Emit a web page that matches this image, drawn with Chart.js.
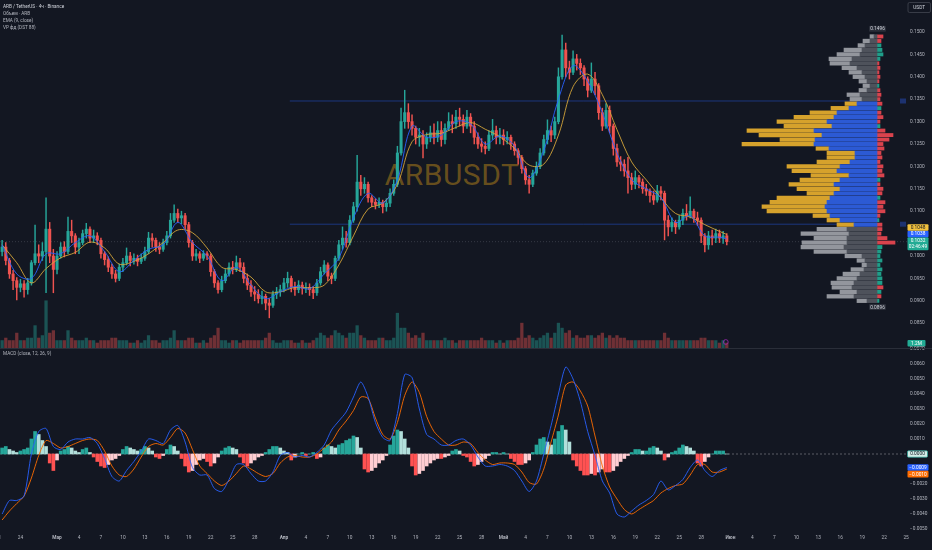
<!DOCTYPE html>
<html><head><meta charset="utf-8">
<script src="https://cdn.jsdelivr.net/npm/chart.js@4.4.1/dist/chart.umd.min.js"></script>
<style>
html,body{margin:0;padding:0;background:#131722;width:932px;height:550px;overflow:hidden;font-family:Roboto,"Noto Sans",sans-serif;}
#topc{position:absolute;left:0;top:0;z-index:2}
#botc{position:absolute;left:0;top:340px;z-index:3}
#sep{position:absolute;left:0;top:348px;width:932px;height:1px;background:#2a2e39;z-index:4}
#wm{position:absolute;left:452px;top:160px;transform:translateX(-50%);font-size:30px;line-height:30px;color:rgba(176,128,26,0.55);z-index:1;white-space:nowrap;letter-spacing:0.5px}
.lg{position:absolute;left:3px;font-size:9.4px;line-height:12px;color:#b2b5be;white-space:nowrap;z-index:5;transform:scale(0.5);transform-origin:0 0}
</style></head>
<body>
<div id="wm">ARBUSDT</div>
<canvas id="topc" width="932" height="348"></canvas>
<canvas id="botc" width="932" height="210"></canvas>
<div id="sep"></div>
<div class="lg" style="top:3px;color:#d1d4dc">ARB / TetherUS · 4ч · Binance</div>
<div class="lg" style="top:10px">Объем · ARB</div>
<div class="lg" style="top:17px">EMA (9, close)</div>
<div class="lg" style="top:24px">VP фд (DST 88)</div>
<div class="lg" style="top:350px">MACD (close, 12, 26, 9)</div>
<script>
// ---------- DATA (12h candles, day 0 = 1 March) ----------
const FIRST_OPEN = 0.1010;
const closes = [
.1020,.0990,.0960,.0945,.0930,.0938,.0925,.0940,.0985,.1005,
.1000,.1010,.1060,.1000,.0970,.1000,.1020,.1010,.1055,.1045,
.1020,.1030,.1050,.1060,.1040,.1045,.1035,.1005,.0992,.0975,
.0960,.0950,.0975,.0985,.1000,.0990,.0995,.0988,.0995,.1010,
.1040,.1035,.1020,.1015,.1030,.1045,.1080,.1095,.1085,.1090,
.1070,.1030,.1000,.1005,.0995,.1005,.1000,.0965,.0940,.0925,
.0945,.0960,.0975,.0970,.0985,.0975,.0950,.0935,.0920,.0915,
.0905,.0910,.0895,.0890,.0915,.0920,.0925,.0940,.0950,.0930,
.0925,.0935,.0928,.0930,.0925,.0918,.0940,.0965,.0980,.0955,
.0950,.0995,.1025,.1040,.1030,.1080,.1110,.1165,.1150,.1160,
.1130,.1120,.1115,.1120,.1110,.1118,.1140,.1160,.1230,.1300,
.1320,.1300,.1285,.1265,.1270,.1250,.1265,.1275,.1265,.1280,
.1260,.1285,.1300,.1295,.1310,.1305,.1290,.1310,.1290,.1265,
.1250,.1245,.1240,.1270,.1280,.1265,.1270,.1260,.1265,.1250,
.1235,.1220,.1195,.1170,.1160,.1185,.1200,.1230,.1260,.1280,
.1270,.1300,.1400,.1460,.1420,.1410,.1440,.1430,.1420,.1395,
.1370,.1395,.1380,.1320,.1290,.1325,.1290,.1240,.1210,.1205,
.1190,.1175,.1160,.1175,.1165,.1150,.1145,.1135,.1125,.1145,
.1140,.1080,.1065,.1075,.1065,.1080,.1095,.1090,.1100,.1085,
.1080,.1045,.1025,.1045,.1040,.1050,.1040,.1045,.1032];
const highs = [
.1035,.1030,.0995,.0968,.0952,.0948,.0945,.0950,.0990,.1069,
.1025,.1030,.1130,.1075,.1015,.1010,.1030,.1032,.1087,.1080,
.1050,.1040,.1058,.1073,.1065,.1058,.1052,.1040,.1010,.0998,
.0982,.0968,.0982,.0995,.1018,.1008,.1005,.1002,.1005,.1020,
.1053,.1050,.1040,.1030,.1038,.1055,.1095,.1114,.1105,.1100,
.1095,.1075,.1035,.1015,.1010,.1012,.1010,.1005,.0970,.0945,
.0955,.0970,.0985,.0988,.1000,.0995,.0985,.0960,.0945,.0932,
.0925,.0922,.0915,.0905,.0922,.0930,.0935,.0950,.0964,.0955,
.0942,.0945,.0942,.0940,.0938,.0932,.0948,.0975,.0990,.0985,
.0962,.1000,.1035,.1065,.1055,.1090,.1120,.1225,.1180,.1175,
.1165,.1135,.1128,.1130,.1125,.1128,.1150,.1170,.1245,.1330,
.1370,.1340,.1315,.1290,.1285,.1280,.1275,.1290,.1295,.1300,
.1300,.1295,.1320,.1315,.1325,.1330,.1315,.1325,.1318,.1300,
.1275,.1262,.1255,.1280,.1305,.1290,.1285,.1282,.1278,.1270,
.1255,.1240,.1225,.1200,.1180,.1192,.1210,.1240,.1270,.1304,
.1290,.1310,.1420,.1493,.1475,.1435,.1458,.1450,.1440,.1425,
.1400,.1431,.1410,.1385,.1330,.1340,.1335,.1295,.1250,.1222,
.1215,.1220,.1185,.1190,.1180,.1172,.1160,.1150,.1145,.1158,
.1155,.1145,.1090,.1085,.1080,.1090,.1105,.1115,.1132,.1105,
.1098,.1085,.1050,.1055,.1058,.1060,.1058,.1055,.1050];
const lows = [
.1000,.0980,.0950,.0925,.0902,.0920,.0908,.0915,.0935,.0980,
.0985,.0990,.0918,.0985,.0918,.0960,.0995,.0998,.1005,.1030,
.1005,.1005,.1025,.1040,.1030,.1030,.1025,.0995,.0980,.0965,
.0950,.0942,.0945,.0965,.0980,.0978,.0982,.0978,.0983,.0990,
.1005,.1020,.1010,.1005,.1010,.1025,.1040,.1075,.1075,.1072,
.1060,.1020,.0990,.0990,.0985,.0990,.0992,.0955,.0930,.0917,
.0920,.0940,.0955,.0960,.0965,.0965,.0940,.0925,.0910,.0900,
.0895,.0893,.0880,.0862,.0885,.0905,.0910,.0920,.0930,.0920,
.0912,.0918,.0915,.0918,.0912,.0905,.0912,.0935,.0960,.0945,
.0938,.0945,.0990,.1015,.1020,.1025,.1075,.1100,.1135,.1140,
.1120,.1110,.1105,.1108,.1096,.1100,.1110,.1135,.1155,.1225,
.1285,.1285,.1270,.1250,.1245,.1219,.1240,.1255,.1250,.1255,
.1245,.1250,.1280,.1275,.1285,.1290,.1275,.1285,.1275,.1250,
.1240,.1232,.1228,.1235,.1260,.1250,.1250,.1248,.1250,.1238,
.1225,.1205,.1185,.1160,.1140,.1155,.1180,.1195,.1225,.1250,
.1255,.1262,.1295,.1395,.1400,.1395,.1405,.1415,.1405,.1380,
.1355,.1365,.1360,.1305,.1280,.1285,.1275,.1225,.1200,.1190,
.1178,.1140,.1148,.1150,.1152,.1140,.1135,.1120,.1115,.1120,
.1125,.1036,.1045,.1055,.1050,.1060,.1070,.1080,.1085,.1075,
.1068,.1030,.1009,.1015,.1025,.1030,.1030,.1028,.1025];
const volumes = [
3,4,3,3,6,3,3,4,4,9,
4,5,19,6,7,3,3,3,7,4,
3,3,3,4,3,3,2,3,3,3,
4,4,3,3,3,2,2,3,2,3,
5,3,3,2,3,3,4,7,3,3,
3,4,4,2,2,3,2,4,5,8,
3,3,2,3,3,2,3,3,3,3,
3,3,4,6,3,2,2,3,3,3,
2,2,3,2,2,3,4,6,5,4,
5,7,6,5,4,6,6,9,5,4,
3,3,3,4,4,3,3,4,14,8,
8,6,4,5,4,6,3,3,3,3,
3,4,3,3,2,3,3,3,3,3,
3,4,3,3,3,2,3,2,3,3,
3,4,10,4,5,4,3,4,5,6,
4,6,10,8,6,7,4,5,4,4,
5,5,4,5,6,4,5,4,5,4,
4,3,3,3,3,3,3,3,3,3,
3,6,4,3,3,3,3,3,3,3,
3,4,4,3,3,3,2,3,2];
// EMA(9) and slow yellow average, read every 4 candles (+ last candle)
const emaFast = [.1025,.0960,.0950,.1005,.1005,.1030,.1045,.1010,.0965,.0990,
.1015,.1025,.1075,.1030,.1000,.0945,.0975,.0935,.0905,.0920,
.0932,.0927,.0960,.0995,.1085,.1140,.1118,.1170,.1290,.1265,
.1270,.1300,.1295,.1250,.1268,.1245,.1175,.1235,.1350,.1425,
.1390,.1320,.1230,.1170,.1150,.1130,.1075,.1090,.1045,.1042,.1038];
const emaSlow = [.1025,.0985,.0940,.0972,.0996,.1008,.1031,.1018,.0982,.0988,
.1005,.1030,.1058,.1052,.1018,.0975,.0970,.0953,.0920,.0920,
.0930,.0929,.0935,.0980,.1045,.1105,.1118,.1160,.1255,.1271,
.1274,.1287,.1298,.1283,.1266,.1240,.1203,.1205,.1270,.1378,
.1406,.1360,.1282,.1210,.1170,.1130,.1095,.1087,.1070,.1055,.1048];
// MACD lines, read every 2 candles (1 day)
const macdLine = [
-.0040,-.0031,-.0031,-.0028,.0000,.0015,.0017,.0005,.0003,.0008,
.0010,.0010,.0011,.0007,-.0003,-.0015,-.0018,-.0011,-.0005,.0002,
.0010,.0009,.0007,.0016,.0019,.0008,-.0009,-.0014,-.0014,-.0023,
-.0025,-.0017,-.0007,-.0007,-.0013,-.0018,-.0018,-.0012,-.0001,.0001,
-.0002,-.0001,-.0002,.0001,.0006,.0016,.0022,.0028,.0038,.0048,
.0038,.0021,.0011,.0009,.0027,.0053,.0051,.0030,.0013,.0010,
.0006,.0006,.0009,.0010,.0006,-.0002,-.0008,-.0008,-.0007,-.0008,
-.0011,-.0018,-.0025,-.0018,.0000,.0019,.0040,.0058,.0050,.0035,
.0015,-.0001,-.0018,-.0026,-.0040,-.0042,-.0038,-.0034,-.0031,-.0027,
-.0018,-.0024,-.0021,-.0017,-.0009,-.0004,-.0011,-.0015,-.0011,-.0009];
const signalLine = [
-.0044,-.0038,-.0033,-.0028,-.0016,-.0001,.0009,.0007,.0004,.0005,
.0007,.0009,.0010,.0009,.0002,-.0008,-.0014,-.0015,-.0010,-.0002,
.0005,.0007,.0006,.0011,.0017,.0014,.0003,-.0008,-.0013,-.0018,
-.0021,-.0018,-.0013,-.0008,-.0010,-.0013,-.0015,-.0013,-.0006,-.0002,
-.0001,-.0002,-.0002,.0000,.0004,.0008,.0016,.0022,.0029,.0038,
.0037,.0024,.0013,.0010,.0021,.0039,.0048,.0041,.0025,.0015,
.0010,.0006,.0006,.0008,.0007,.0001,-.0004,-.0007,-.0006,-.0006,
-.0007,-.0012,-.0019,-.0020,-.0010,.0008,.0026,.0046,.0048,.0042,
.0032,.0012,-.0008,-.0022,-.0030,-.0037,-.0040,-.0037,-.0034,-.0031,
-.0026,-.0023,-.0021,-.0020,-.0014,-.0007,-.0007,-.0012,-.0012,-.0010];
const histogram = [
.0004,.0005,.0003,.0002,.0001,.0002,.0003,.0004,.0010,.0015,
.0013,.0009,.0005,-.0006,-.0011,-.0004,.0002,.0003,.0005,.0004,
.0002,.0001,.0003,.0004,.0001,-.0002,-.0005,-.0008,-.0009,-.0007,
-.0004,-.0003,-.0001,.0003,.0005,.0004,.0003,.0002,.0003,.0005,
.0004,.0002,-.0002,-.0003,-.0001,.0003,.0006,.0005,.0002,-.0003,
-.0008,-.0012,-.0011,-.0007,-.0004,-.0003,-.0005,-.0008,-.0006,-.0002,
.0002,.0004,.0005,.0004,.0003,-.0002,-.0006,-.0008,-.0006,-.0004,
-.0002,-.0001,.0001,.0003,.0005,.0005,.0004,.0002,.0001,-.0004,
-.0002,.0000,.0001,-.0001,.0000,.0001,-.0003,-.0002,.0004,.0006,
.0005,.0004,.0006,.0007,.0009,.0010,.0012,.0011,.0004,-.0010,
-.0012,-.0011,-.0009,-.0006,-.0004,-.0001,.0006,.0012,.0016,.0015,
.0010,.0004,-.0008,-.0014,-.0013,-.0011,-.0008,-.0006,-.0004,-.0003,
-.0003,-.0002,-.0001,.0002,.0003,.0002,-.0001,-.0002,-.0005,-.0008,
-.0007,-.0005,-.0003,-.0001,.0001,.0001,.0000,.0001,.0000,-.0003,
-.0005,-.0007,-.0007,-.0006,-.0004,.0001,.0006,.0010,.0011,.0008,
.0006,.0010,.0015,.0019,.0016,.0008,-.0004,-.0008,-.0011,-.0014,
-.0014,-.0013,-.0014,-.0012,-.0010,-.0012,-.0012,-.0011,-.0008,-.0005,
-.0003,-.0001,.0001,.0003,.0003,.0002,.0002,.0004,.0005,.0004,
.0002,-.0004,-.0002,.0001,.0002,.0004,.0006,.0005,.0004,.0002,
-.0006,-.0008,-.0005,-.0002,.0000,.0002,.0002,.0002,.0000];
// Volume profile rows
const vpPrices = [.149,.148,.147,.146,.145,.144,.143,.142,.141,.140,.139,.138,.137,.136,.135,
.134,.133,.132,.131,.130,.129,.128,.127,.126,.125,.124,.123,.122,.121,.120,.119,.118,.117,.116,.115,.114,.113,.112,.111,.110,.109,.108,.107,
.106,.105,.104,.103,.102,.101,.100,.099,.098,.097,.096,.095,.094,.093,.092,.091,.090];
const vpInner = [3,7,12,15,17,25,27,20,15,12,10,7,10,17,15,
20,28,40,43,50,45,63,55,62,63,48,22,22,27,37,40,28,37,43,37,43,47,50,52,50,47,37,23,
30,28,30,30,33,30,15,12,10,13,17,20,23,25,20,23,10];
const vpOuter = [4,7,7,18,23,23,20,15,13,12,8,7,8,13,12,
12,18,27,40,50,48,67,63,35,72,13,28,28,33,53,45,38,40,45,43,27,53,57,63,60,17,13,17,
30,48,33,45,43,33,17,8,5,13,17,20,23,20,17,27,10];
const vpDelta = [-6,-4,4,5,6,3,-2,-3,-2,-3,-2,2,-3,-4,-3,
-5,4,-4,-6,-3,3,-8,-16,-12,-6,-7,-4,-5,-3,-6,-5,-7,3,-3,-6,-5,3,-8,-6,-8,-3,2,-5,
-5,-4,-10,-18,5,4,3,5,3,5,4,5,5,-6,4,-4,2];
const VAH = 0.1346, VAL = 0.1071, VA_ROW_HIGH = 0.134, VA_ROW_LOW = 0.107;
const VP_HIGH = 0.1496, VP_LOW = 0.0896;
// axis ticks
const xTickDays = [-8,-5,0,3,6,9,12,15,18,21,24,27,31,34,37,40,43,46,49,52,55,58,61,64,67,70,73,76,79,82,85,88,92,95,98,101,104,107,110,113,116];
const xTickLabels = ['21','24','Мар','4','7','10','13','16','19','22','25','28','Апр','4','7','10','13','16','19','22','25','28','Май','4','7','10','13','16','19','22','25','28','Июн','4','7','10','13','16','19','22','25'];
const monthLabels = ['Мар','Апр','Май','Июн'];
const priceTicks = [0.15,0.145,0.14,0.135,0.13,0.125,0.12,0.115,0.11,0.105,0.1,0.095,0.09,0.085];
const macdTicks = [0.007,0.006,0.005,0.004,0.003,0.002,0.001,0,-0.001,-0.002,-0.003,-0.004,-0.005];

// ---------- view settings ----------
const START_DAY = -7.5, STEP_DAYS = 0.5;
const XMIN = -7.79, XMAX = 116.12;
const VP_START = 31.8, VP_END = 112.0;
const UP = '#26a69a', DOWN = '#ef5350';
const FONT = 'Roboto, "Noto Sans", sans-serif';
Chart.defaults.font.family = FONT;
Chart.defaults.font.size = 4.8;

const n = closes.length;
const dayOf = i => START_DAY + i * STEP_DAYS;
const opens = closes.map((c, i) => i === 0 ? FIRST_OPEN : closes[i - 1]);
const candleCol = closes.map((c, i) => c >= opens[i] ? UP : DOWN);
const volCol = closes.map((c, i) => c >= opens[i] ? 'rgba(38,166,154,0.42)' : 'rgba(239,83,80,0.42)');
const sampled = (arr, every) => arr.map((v, k) => ({x: dayOf(Math.min(k * every, n - 1)), y: v}));
const inVA = p => p <= VA_ROW_HIGH + 1e-9 && p >= VA_ROW_LOW - 1e-9;
const fmt = v => (v < 0 ? '\u2212' : '') + Math.abs(v).toFixed(4);

function tag(g, x, y, w, h, bg, fg, lines, border) {
  g.beginPath();
  if (g.roundRect) g.roundRect(x, y, w, h, 1); else g.rect(x, y, w, h);
  g.fillStyle = bg; g.fill();
  if (border) { g.strokeStyle = border; g.lineWidth = 0.7; g.stroke(); }
  g.fillStyle = fg; g.textAlign = 'center'; g.textBaseline = 'middle';
  g.font = '4.8px ' + FONT;
  const lh = h / lines.length;
  lines.forEach((t, k) => g.fillText(t, x + w / 2, y + lh * (k + 0.5) + 0.3));
}

const noPad = s => { s.paddingTop = 0; s.paddingBottom = 0; s.paddingLeft = 0; s.paddingRight = 0; };

const topTags = {
  id: 'topTags',
  afterDraw(c) {
    const g = c.ctx, yP = c.scales.yPrice, xs = c.scales.x;
    g.save();
    g.beginPath(); if (g.roundRect) g.roundRect(908, 2.5, 22.5, 10, 1.5); else g.rect(908, 2.5, 22.5, 10);
    g.strokeStyle = '#434651'; g.lineWidth = 0.8; g.stroke();
    g.fillStyle = '#d1d4dc'; g.font = '4.8px ' + FONT; g.textAlign = 'center'; g.textBaseline = 'middle';
    g.fillText('USDT', 919.2, 7.8);
    tag(g, 869, yP.getPixelForValue(VP_HIGH) - 8, 17, 6, '#2a2e39', '#d1d4dc', [VP_HIGH.toFixed(4)]);
    tag(g, 869, yP.getPixelForValue(VP_LOW) + 1.5, 17, 6, '#2a2e39', '#d1d4dc', [VP_LOW.toFixed(4)]);
    g.fillStyle = '#1d3270';
    g.fillRect(900, yP.getPixelForValue(VAH) - 2.5, 6, 5);
    g.fillRect(900, yP.getPixelForValue(VAL) - 2.5, 6, 5);
    const last = closes[n - 1];
    const gy = yP.getPixelForValue(last) - 4.5;
    tag(g, 907.5, gy, 21, 13, '#22ab94', '#ffffff', [last.toFixed(4), '02:46:49']);
    tag(g, 907.5, gy - 6.5, 21, 6.5, '#2962ff', '#ffffff', [emaFast[emaFast.length - 1].toFixed(4)]);
    tag(g, 907.5, gy - 13, 21, 6.5, '#f2c23e', '#131722', [emaSlow[emaSlow.length - 1].toFixed(4)]);
    tag(g, 907.5, 340, 18, 6.5, '#22ab94', '#ffffff', ['1.2M']);
    g.beginPath(); g.arc(xs.getPixelForValue(dayOf(n - 1)) - 1, 342, 2.4, 0, Math.PI * 2);
    g.strokeStyle = '#9c27b0'; g.lineWidth = 0.8; g.stroke();
    g.restore();
  }
};

const botTags = {
  id: 'botTags',
  afterDraw(c) {
    const g = c.ctx, yM = c.scales.yMacd;
    g.save();
    const h0 = histogram[histogram.length - 1];
    const y0 = yM.getPixelForValue(h0);
    tag(g, 907.5, y0 - 3.2, 20, 6.4, '#d3ece7', '#131722', [fmt(h0)], '#26a69a');
    const m = macdLine[macdLine.length - 1], s = signalLine[signalLine.length - 1];
    const ym = yM.getPixelForValue(m);
    tag(g, 907.5, ym - 3.2, 21, 6.4, '#2962ff', '#ffffff', [fmt(m)]);
    tag(g, 907.5, ym + 3.2, 21, 6.8, '#ff6d00', '#ffffff', [fmt(s)]);
    g.restore();
  }
};

const hiddenLinear = (min, max, extra) => Object.assign({type: 'linear', display: false, min, max, offset: false, bounds: 'data', beginAtZero: false, grid: {display: false}}, extra || {});

// ---------- top chart: price / volume / volume profile ----------
const topDatasets = [
  {type: 'bar', label: 'vol', xAxisID: 'x', yAxisID: 'yVol', grouped: false, barThickness: 2.6,
   data: volumes.map((v, i) => ({x: dayOf(i), y: v})), backgroundColor: volCol, order: 12},
  {type: 'line', label: 'VAH', xAxisID: 'x', yAxisID: 'yPrice', data: [{x: VP_START, y: VAH}, {x: VP_END, y: VAH}],
   borderColor: 'rgba(41,98,255,0.6)', borderWidth: 0.7, pointRadius: 0, order: 11},
  {type: 'line', label: 'VAL', xAxisID: 'x', yAxisID: 'yPrice', data: [{x: VP_START, y: VAL}, {x: VP_END, y: VAL}],
   borderColor: 'rgba(41,98,255,0.6)', borderWidth: 0.7, pointRadius: 0, order: 11},
  {type: 'line', label: 'last', xAxisID: 'x', yAxisID: 'yPrice', data: [{x: XMIN, y: closes[n - 1]}, {x: XMAX, y: closes[n - 1]}],
   borderColor: 'rgba(120,123,134,0.5)', borderWidth: 0.7, borderDash: [1, 2], pointRadius: 0, order: 10},
  {type: 'bar', label: 'wick', xAxisID: 'x', yAxisID: 'yPrice', grouped: false, barThickness: 0.8,
   data: closes.map((c, i) => ({x: dayOf(i), y: [lows[i], highs[i]]})), backgroundColor: candleCol, order: 6},
  {type: 'bar', label: 'body', xAxisID: 'x', yAxisID: 'yPrice', grouped: false, barThickness: 2.4, minBarLength: 0.8,
   data: closes.map((c, i) => ({x: dayOf(i), y: [opens[i], c]})), backgroundColor: candleCol, order: 5},
  {type: 'line', label: 'EMA slow', xAxisID: 'x', yAxisID: 'yPrice', data: sampled(emaSlow, 4),
   borderColor: '#d4a53a', borderWidth: 0.9, pointRadius: 0, tension: 0.35, order: 4},
  {type: 'line', label: 'EMA 9', xAxisID: 'x', yAxisID: 'yPrice', data: sampled(emaFast, 4),
   borderColor: '#2962ff', borderWidth: 0.9, pointRadius: 0, tension: 0.35, order: 3},
  {type: 'bar', label: 'vp inner', indexAxis: 'y', xAxisID: 'xVP', yAxisID: 'yPrice', grouped: false, barThickness: 3.6,
   data: vpPrices.map((p, j) => ({x: [0, vpInner[j]], y: p})),
   backgroundColor: vpPrices.map(p => inVA(p) ? '#2c5ad4' : '#4e525b'), order: 1},
  {type: 'bar', label: 'vp outer', indexAxis: 'y', xAxisID: 'xVP', yAxisID: 'yPrice', grouped: false, barThickness: 3.6,
   data: vpPrices.map((p, j) => ({x: [vpInner[j], vpInner[j] + vpOuter[j]], y: p})),
   backgroundColor: vpPrices.map(p => inVA(p) ? '#d6a22c' : '#93969d'), order: 1},
  {type: 'bar', label: 'vp delta', indexAxis: 'y', xAxisID: 'xVP', yAxisID: 'yPrice', grouped: false, barThickness: 3.2,
   data: vpPrices.map((p, j) => ({x: [0, -Math.abs(vpDelta[j])], y: p})),
   backgroundColor: vpDelta.map(d => d < 0 ? '#d9434d' : '#1f9e89'), order: 1}
];

new Chart(document.getElementById('topc'), {
  type: 'bar',
  data: {datasets: topDatasets},
  options: {
    responsive: false, animation: false, events: [],
    layout: {padding: 0},
    plugins: {legend: {display: false}, tooltip: {enabled: false}},
    scales: {
      x: hiddenLinear(XMIN, XMAX, {position: 'bottom'}),
      xVP: hiddenLinear(-30, 877, {position: 'bottom', axis: 'x', reverse: true}),
      yVol: hiddenLinear(0, 140, {position: 'left', axis: 'y'}),
      yPrice: {type: 'linear', position: 'right', axis: 'y', min: 0.079469, max: 0.157143, offset: false, bounds: 'data', beginAtZero: false,
        grid: {display: false, drawTicks: false}, border: {display: false},
        afterBuildTicks: s => { s.ticks = priceTicks.map(v => ({value: v})); },
        afterFit: s => { s.width = 25; noPad(s); },
        ticks: {autoSkip: false, padding: 3, color: '#b2b5be', font: {size: 4.8}, callback: v => v.toFixed(4)}}
    }
  },
  plugins: [topTags]
});

// ---------- bottom chart: MACD ----------
const histCol = histogram.map((v, i) => {
  const p = i ? histogram[i - 1] : 0;
  if (v >= 0) return v >= p ? '#26a69a' : '#b2dfdb';
  return v <= p ? '#ff5252' : '#ffcdd2';
});

new Chart(document.getElementById('botc'), {
  type: 'bar',
  data: {datasets: [
    {type: 'line', label: 'zero', xAxisID: 'x', yAxisID: 'yMacd', data: [{x: XMIN, y: 0}, {x: XMAX, y: 0}],
     borderColor: 'rgba(200,203,210,0.55)', borderWidth: 0.7, borderDash: [2, 2], pointRadius: 0, order: 9},
    {type: 'bar', label: 'hist', xAxisID: 'x', yAxisID: 'yMacd', grouped: false, barThickness: 3,
     data: histogram.map((v, i) => ({x: dayOf(i), y: v})), backgroundColor: histCol, order: 5},
    {type: 'line', label: 'signal', xAxisID: 'x', yAxisID: 'yMacd', data: sampled(signalLine, 2),
     borderColor: '#ff6d00', borderWidth: 0.9, pointRadius: 0, tension: 0.25, order: 2},
    {type: 'line', label: 'macd', xAxisID: 'x', yAxisID: 'yMacd', data: sampled(macdLine, 2),
     borderColor: '#2962ff', borderWidth: 0.9, pointRadius: 0, tension: 0.25, order: 1}
  ]},
  options: {
    responsive: false, animation: false, events: [],
    layout: {padding: {top: 9, left: 0, right: 0, bottom: 0}},
    plugins: {legend: {display: false}, tooltip: {enabled: false}},
    scales: {
      x: {type: 'linear', position: 'bottom', min: XMIN, max: XMAX, offset: false, bounds: 'data',
        grid: {display: false, drawTicks: false}, border: {display: false},
        afterBuildTicks: s => { s.ticks = xTickDays.map(v => ({value: v})); },
        afterFit: s => { s.height = 18; noPad(s); },
        ticks: {autoSkip: false, maxRotation: 0, minRotation: 0, padding: 3, color: '#b2b5be',
          font: c => {
            const lab = c.tick ? xTickLabels[xTickDays.indexOf(c.tick.value)] : '';
            return {size: 4.8, weight: monthLabels.includes(lab) ? 'bold' : 'normal'};
          },
          callback: v => xTickLabels[xTickDays.indexOf(v)]}},
      yMacd: {type: 'linear', position: 'right', min: -0.0052, max: 0.0070, offset: false, bounds: 'data', beginAtZero: false,
        grid: {display: false, drawTicks: false}, border: {display: false},
        afterBuildTicks: s => { s.ticks = macdTicks.map(v => ({value: v})); },
        afterFit: s => { s.width = 25; noPad(s); },
        ticks: {autoSkip: false, padding: 3, color: '#b2b5be', font: {size: 4.8}, callback: v => fmt(v)}}
    }
  },
  plugins: [botTags]
});
</script>
</body></html>
